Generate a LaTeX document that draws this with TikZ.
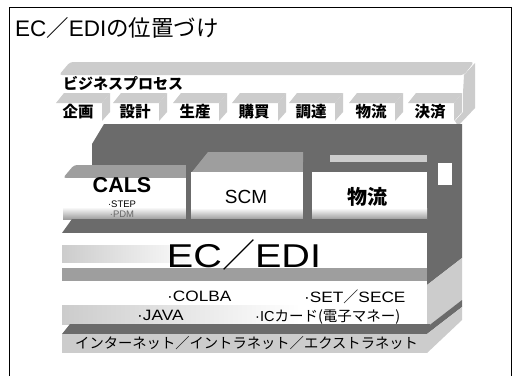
\documentclass[tikz,border=0pt]{standalone}
\usepackage{fontspec}
\setmainfont{Liberation Sans}
\newfontfamily\jp{Noto Sans CJK JP}
\newfontfamily\wide[FakeStretch=1.15]{Liberation Sans}
\newfontfamily\wider[FakeStretch=1.2]{Liberation Sans}
\definecolor{lt}{gray}{0.80}
\definecolor{md}{gray}{0.62}
\definecolor{dk}{gray}{0.42}
\begin{document}
\begin{tikzpicture}[x=1pt,y=-1pt,
  lab/.style={inner sep=0pt},
  botshade/.style={top color=white, bottom color=md},
]
\useasboundingbox (0,0) rectangle (519,376);
\fill[white] (0,0) rectangle (519,376);

% title
\node[lab, anchor=base west] (title) at (15,36) {\fontsize{22.5}{23}\selectfont EC{\jp ／}EDI{\jp の位置づけ}};

% business process
\fill[lt, rounded corners=3pt] (70,62) -- (474,62) -- (464,75) -- (59,75) -- cycle;
\fill[lt] (463,93) -- (464,75) -- (475,63) -- (475,108) -- (458,126) -- (455,121) -- (463,112) -- cycle;
\node[lab, anchor=base west] (bp) at (63,89) {\jp\bfseries\fontsize{15}{15}\selectfont ビジネスプロセス};
\foreach \c/\t [count=\i] in {78/企画,135/設計,195/生産,254/購買,311/調達,371/物流,430/決済}{
  \fill[lt] (\c-22+8,93) -- (\c+24+8,93) -- (\c+24,103) -- (\c-22,103) -- cycle;
  \fill[lt] (\c+24,103) -- (\c+32,93) -- (\c+32,112) -- (\c+24,121) -- cycle;
  \node[lab] (tab\i) at (\c,112) {\jp\bfseries\fontsize{15.5}{16}\selectfont \t};
}

% dark back tray
\fill[dk] (104,124) -- (462,124) -- (462,258) -- (427,285) -- (427,219) -- (92,219) -- (92,144) -- cycle;
\fill[md] (192,172) -- (208,152) -- (303,152) -- (303,172) -- cycle;
\fill[lt] (330,155) rectangle (427,162);
\fill[white] (438,163) rectangle (452,185);

% CALS block
\fill[md, rounded corners=3pt] (74,165) -- (190,165) -- (190,178) -- (63,178) -- cycle;
\fill[white] (63,178) rectangle (186,219);
\shade[botshade] (63,207) rectangle (186,219);
\fill[dk] (186,165) rectangle (191,219);
\node[lab, anchor=base] (cals) at (122,192) {\bfseries\fontsize{21.5}{22}\selectfont CALS};
\node[lab, anchor=base] (step) at (122,207) {\fontsize{9.5}{10}\selectfont ·STEP};
\node[lab, anchor=base, text=black!60] (pdm) at (122,217) {\fontsize{9.5}{10}\selectfont ·PDM};

% SCM block
\fill[white] (191,172) rectangle (303,219);
\shade[botshade] (191,208) rectangle (303,219);
\fill[dk] (303,162) rectangle (312,219);
\node[lab, anchor=base] (scm) at (246,203) {\fontsize{19}{20}\selectfont SCM};

% logistics block
\fill[white] (312,172) rectangle (427,219);
\shade[botshade] (312,208) rectangle (427,219);
\node[lab] (butsu) at (367,197) {\jp\bfseries\fontsize{20}{20}\selectfont 物流};

% EC/EDI slab
\fill[dk] (72,219) -- (427,219) -- (427,233) -- (62,233) -- cycle;
\fill[white] (62,233) rectangle (427,268);
\shade[left color=lt, right color=white] (62,245) rectangle (200,262);
\fill[md] (62,268) rectangle (427,281);
\node[lab, anchor=base] (ecedi) at (244,267) {\fontsize{33}{33}\selectfont {\wider EC}{\jp ／}{\wider EDI}};

% lower band
\fill[white] (62,281) rectangle (427,324);
\shade[left color=lt, right color=white] (62,305) rectangle (300,324);
\fill[lt] (427,285) -- (462,258) -- (462,300) -- (427,327) -- cycle;
\node[lab, anchor=base west] (colba) at (167,301) {\wide\fontsize{15}{15}\selectfont ·COLBA};
\node[lab, anchor=base west] (set) at (304,302) {\wide\fontsize{15}{15}\selectfont ·SET{\jp ／}SECE};
\node[lab, anchor=base west] (java) at (137,320) {\wide\fontsize{15}{15}\selectfont ·JAVA};
\node[lab, anchor=base west] (ic) at (255,321) {\fontsize{14.5}{15}\selectfont ·IC{\jp カード(電子マネー)}};

% bottom bar
\fill[dk] (70,324) -- (430,324) -- (427,334) -- (62,334) -- cycle;
\fill[lt] (62,334) rectangle (427,353);
\fill[dk] (427,327) -- (462,300) -- (462,307) -- (427,334) -- cycle;
\fill[lt] (427,334) -- (462,307) -- (462,320) -- (427,353) -- cycle;
\node[lab, anchor=west] (net) at (75,343) {\jp\fontsize{14.3}{15}\selectfont インターネット／イントラネット／エクストラネット};

% frame
\draw[line width=1pt] (9,376) -- (9,7) -- (511,7) -- (511,376);
\end{tikzpicture}
\end{document}
